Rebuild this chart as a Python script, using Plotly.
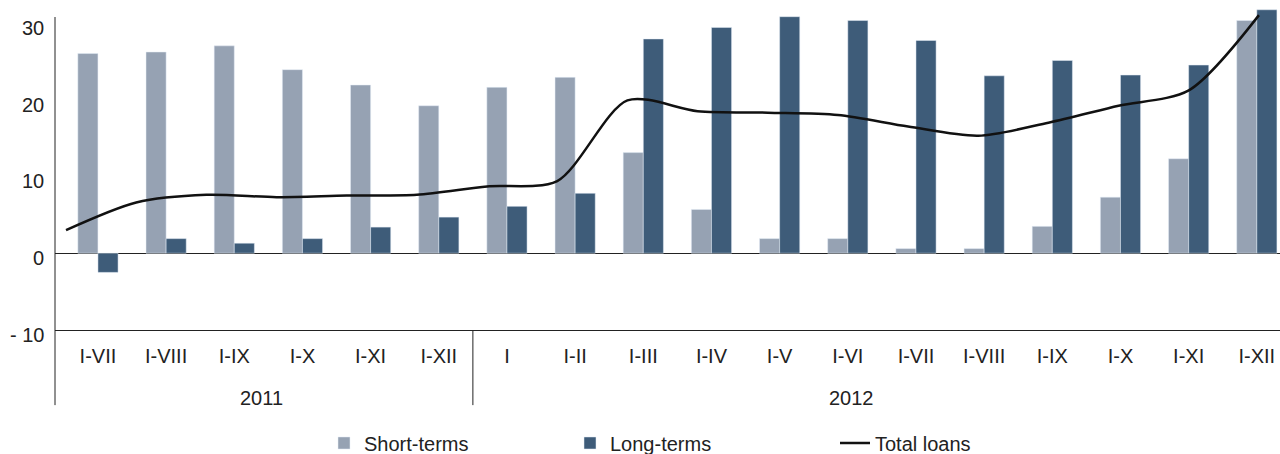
import plotly.graph_objects as go

periods = ["I-VII", "I-VIII", "I-IX", "I-X", "I-XI", "I-XII",
           "I", "I-II", "I-III", "I-IV", "I-V", "I-VI",
           "I-VII", "I-VIII", "I-IX", "I-X", "I-XI", "I-XII"]
years = ["2011", "2012"]
short_terms = [26.0, 26.2, 27.0, 23.9, 21.9, 19.2,
               21.6, 22.9, 13.1, 5.7, 1.9, 1.9,
               0.6, 0.6, 3.5, 7.3, 12.3, 30.3]
long_terms = [-2.5, 1.9, 1.3, 1.9, 3.4, 4.7,
              6.1, 7.8, 27.9, 29.4, 30.8, 30.3,
              27.7, 23.1, 25.1, 23.2, 24.5, 31.7]
total_loans = [3.0, 6.6, 7.6, 7.3, 7.5, 7.6,
               8.7, 9.4, 19.9, 18.5, 18.3, 18.0,
               16.5, 15.3, 17.0, 19.2, 21.2, 31.0]
y_ticks = [-10, 0, 10, 20, 30]
y_ticktext = ["- 10", "0", "10", "20", "30"]

idx = list(range(len(periods)))
FONT = "Liberation Sans, Arial, sans-serif"
FS = 20

fig = go.Figure()
fig.add_trace(go.Bar(name="Short-terms", x=idx, y=short_terms, legend="legend",
                     showlegend=True, marker_color="#96A2B3", cliponaxis=False))
fig.add_trace(go.Bar(name="Long-terms", x=idx, y=long_terms, legend="legend2",
                     showlegend=True, marker_color="#3E5C79", cliponaxis=False))
fig.add_trace(go.Scatter(name="Total loans", x=idx, y=total_loans, xaxis="x2",
                         legend="legend3", showlegend=True, mode="lines",
                         line=dict(color="#111111", width=2.5, shape="spline", smoothing=0.8),
                         cliponaxis=False))

shapes = [
    # y axis line, running down through the category labels
    dict(type="line", xref="paper", yref="paper", x0=0, x1=0, y0=0.975, y1=-0.234,
         line=dict(color="#222", width=1)),
    # separator between years
    dict(type="line", xref="x", yref="paper", x0=5.5, x1=5.5, y0=0, y1=-0.234,
         line=dict(color="#222", width=1)),
]
annotations = [
    dict(text=years[0], x=2.4, xref="x", y=-0.212, yref="paper", yanchor="middle",
         showarrow=False, font=dict(size=FS, color="#222", family=FONT)),
    dict(text=years[1], x=11.05, xref="x", y=-0.212, yref="paper", yanchor="middle",
         showarrow=False, font=dict(size=FS, color="#222", family=FONT)),
]
# y tick labels sit a little below their values in the original
for v, t in zip(y_ticks, y_ticktext):
    annotations.append(dict(text=t, x=0, xref="paper", xanchor="right", xshift=-9,
                            y=v, yref="y", yanchor="middle", yshift=-5, showarrow=False,
                            font=dict(size=FS, color="#222", family=FONT)))


def leg(xpx):
    return dict(orientation="h", x=(xpx - 55) / 1225, xanchor="left", y=-0.352,
                yanchor="middle", font=dict(size=FS), bgcolor="rgba(0,0,0,0)")


fig.update_layout(
    width=1280, height=454,
    margin=dict(l=55, r=0, t=9, b=124, autoexpand=False),
    plot_bgcolor="white", paper_bgcolor="white",
    barmode="group", bargap=0.41, bargroupgap=0,
    showlegend=True,
    font=dict(family=FONT, size=FS, color="#222"),
    xaxis=dict(range=[-0.63, 17.34], tickvals=idx, ticktext=periods, automargin=False,
               showgrid=False, zeroline=False, showline=True, linecolor="#222",
               linewidth=1, ticks="", ticklabelstandoff=8),
    xaxis2=dict(range=[-0.157, 17.30], overlaying="x", visible=False),
    yaxis=dict(range=[-10, 31.8], tickvals=y_ticks, showticklabels=False, automargin=False,
               showgrid=False, zeroline=True, zerolinecolor="#222", zerolinewidth=1,
               showline=False, ticks=""),
    legend=leg(324),
    legend2=leg(570),
    legend3=leg(835),
    shapes=shapes,
    annotations=annotations,
)

fig.write_html("out.html", config={"displayModeBar": False},
               post_script="document.body.style.margin='0';")
